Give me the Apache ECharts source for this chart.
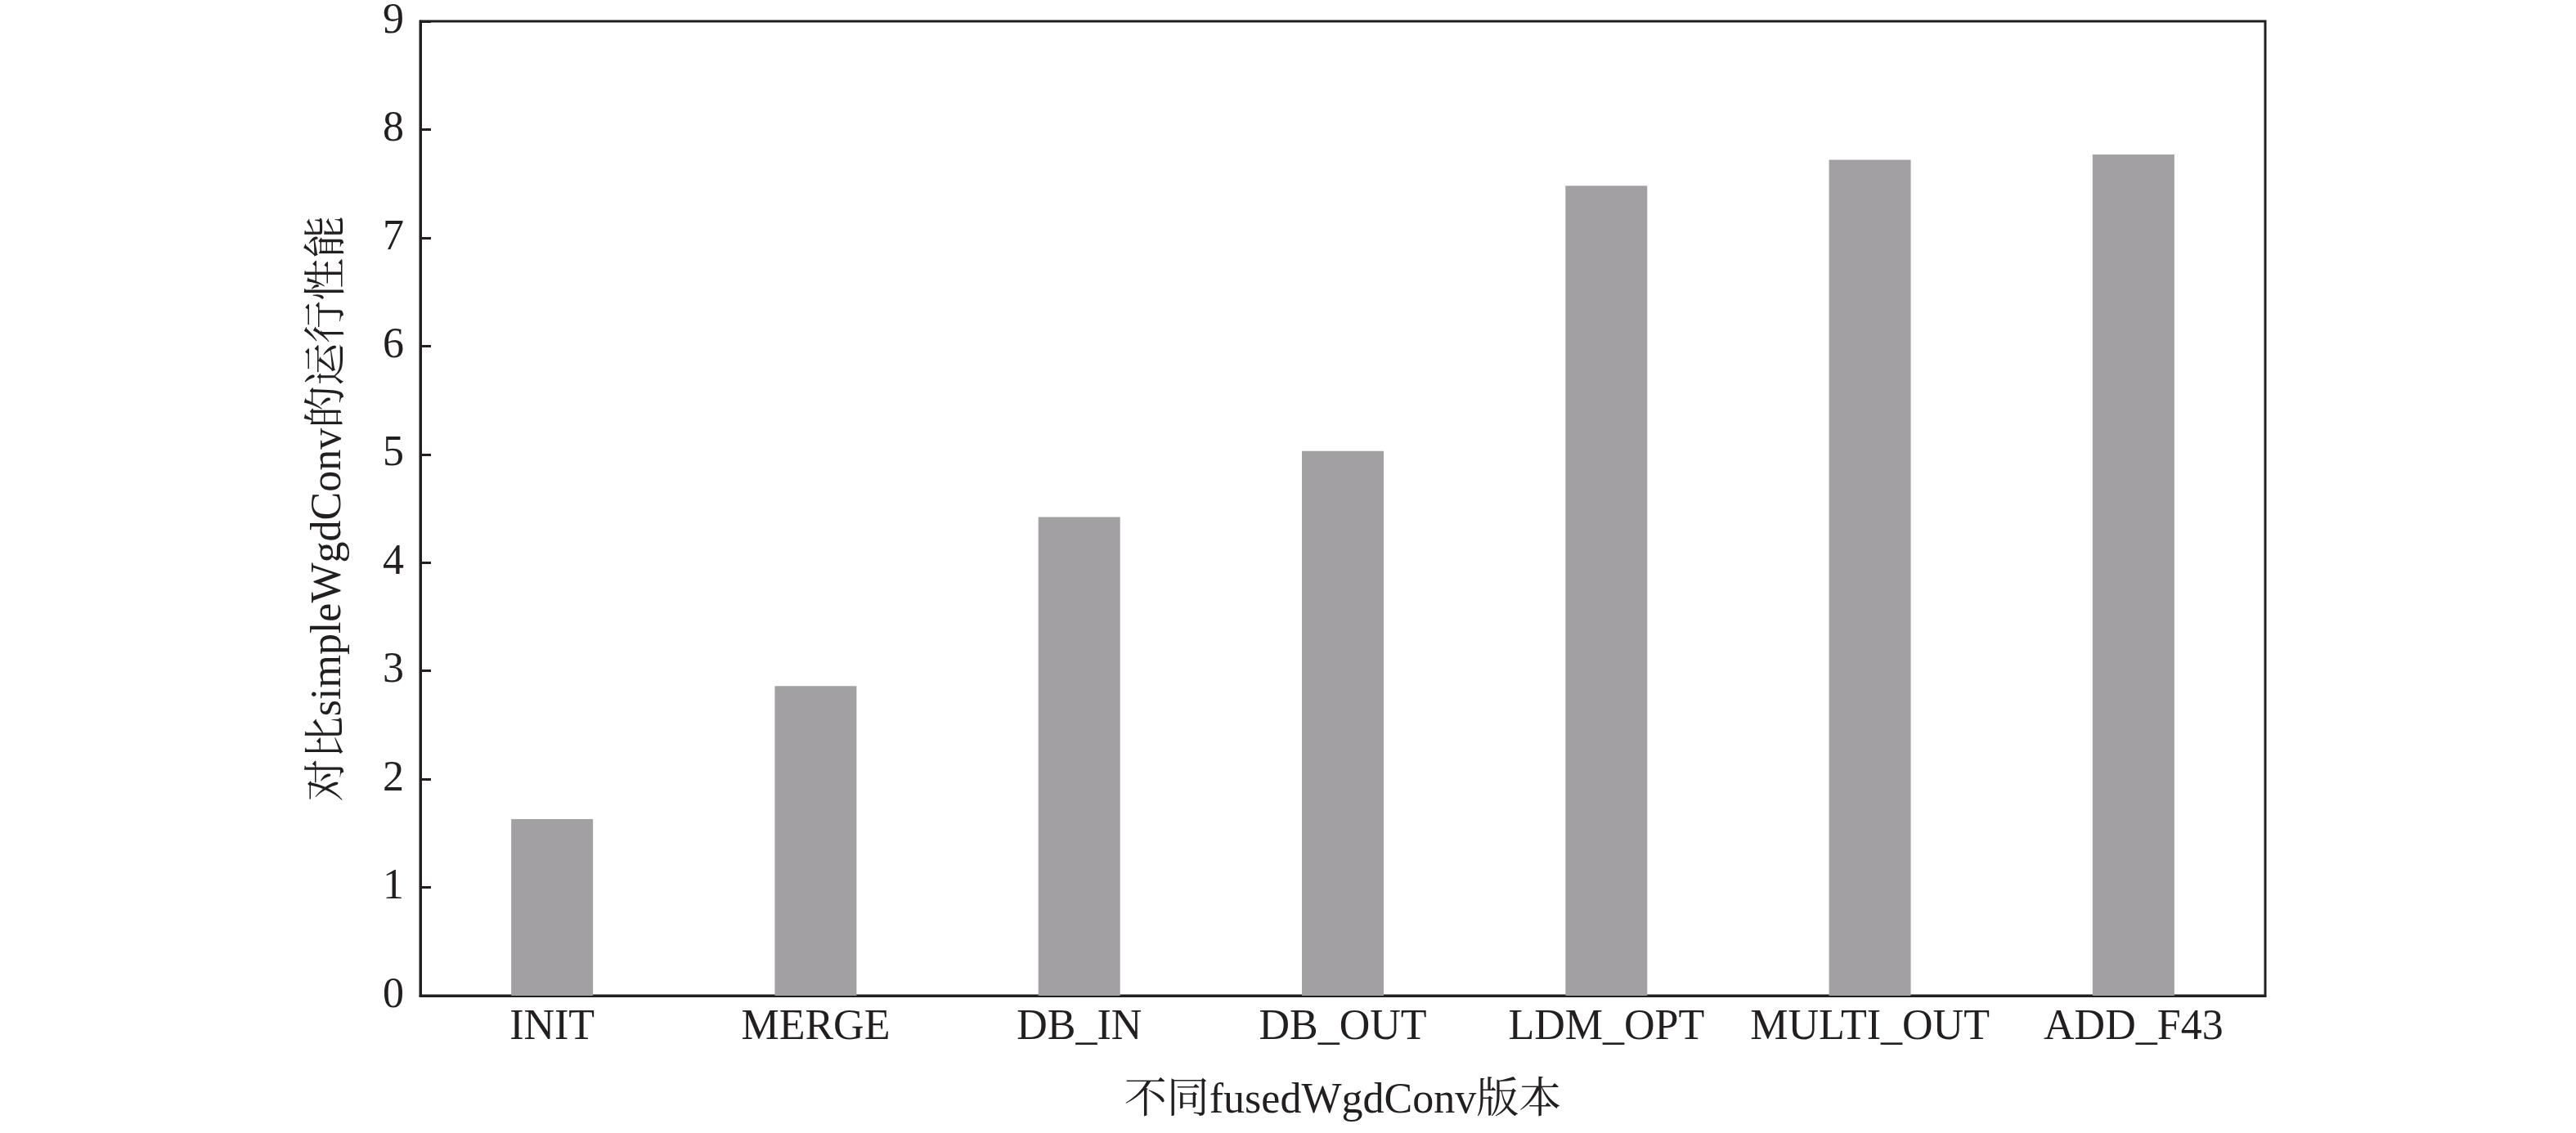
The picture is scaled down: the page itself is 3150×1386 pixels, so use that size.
<!DOCTYPE html>
<html>
<head>
<meta charset="utf-8">
<script src="https://cdn.jsdelivr.net/npm/echarts@6/dist/echarts.min.js"></script>
<style>
html,body{margin:0;padding:0;background:#fff;}
#chart{width:3150px;height:1386px;}
</style>
</head>
<body>
<div id="chart"></div>
<script>
const categories = ['INIT', 'MERGE', 'DB_IN', 'DB_OUT', 'LDM_OPT', 'MULTI_OUT', 'ADD_F43'];
const values = [1.63, 2.86, 4.42, 5.03, 7.48, 7.72, 7.77];
const xAxisName = '不同fusedWgdConv版本';
const yAxisName = '对比simpleWgdConv的运行性能';

const fontFamily = '"Liberation Serif", "Noto Serif CJK SC", "Noto Sans CJK SC", serif';
const ink = '#231f20';

const chart = echarts.init(document.getElementById('chart'), null, {renderer: 'canvas'});
chart.setOption({
  animation: false,
  backgroundColor: '#ffffff',
  grid: {
    left: 514, right: 380, top: 23, bottom: 168,
    show: true, borderColor: ink, borderWidth: 3, backgroundColor: 'transparent'
  },
  xAxis: {
    type: 'category',
    data: categories,
    name: xAxisName,
    nameLocation: 'middle',
    nameGap: 103,
    nameTextStyle: {fontFamily: fontFamily, fontSize: 52, color: ink},
    axisLine: {show: true, lineStyle: {color: ink, width: 3}},
    axisTick: {show: true, inside: true, alignWithLabel: true, length: 13, lineStyle: {color: ink, width: 3}},
    axisLabel: {fontFamily: fontFamily, fontSize: 52, color: ink, margin: 13, interval: 0},
    splitLine: {show: false}
  },
  yAxis: {
    type: 'value',
    min: 0, max: 9, interval: 1,
    name: yAxisName,
    nameLocation: 'middle',
    nameGap: 86,
    nameTextStyle: {fontFamily: fontFamily, fontSize: 52, color: ink},
    axisLine: {show: true, lineStyle: {color: ink, width: 3}},
    axisTick: {show: true, inside: true, length: 13, lineStyle: {color: ink, width: 3}},
    axisLabel: {fontFamily: fontFamily, fontSize: 52, color: ink, margin: 20},
    splitLine: {show: false}
  },
  series: [{
    type: 'bar',
    data: values,
    barWidth: 100,
    itemStyle: {color: '#a2a0a3'},
    z: 1
  }]
});
</script>
</body>
</html>
